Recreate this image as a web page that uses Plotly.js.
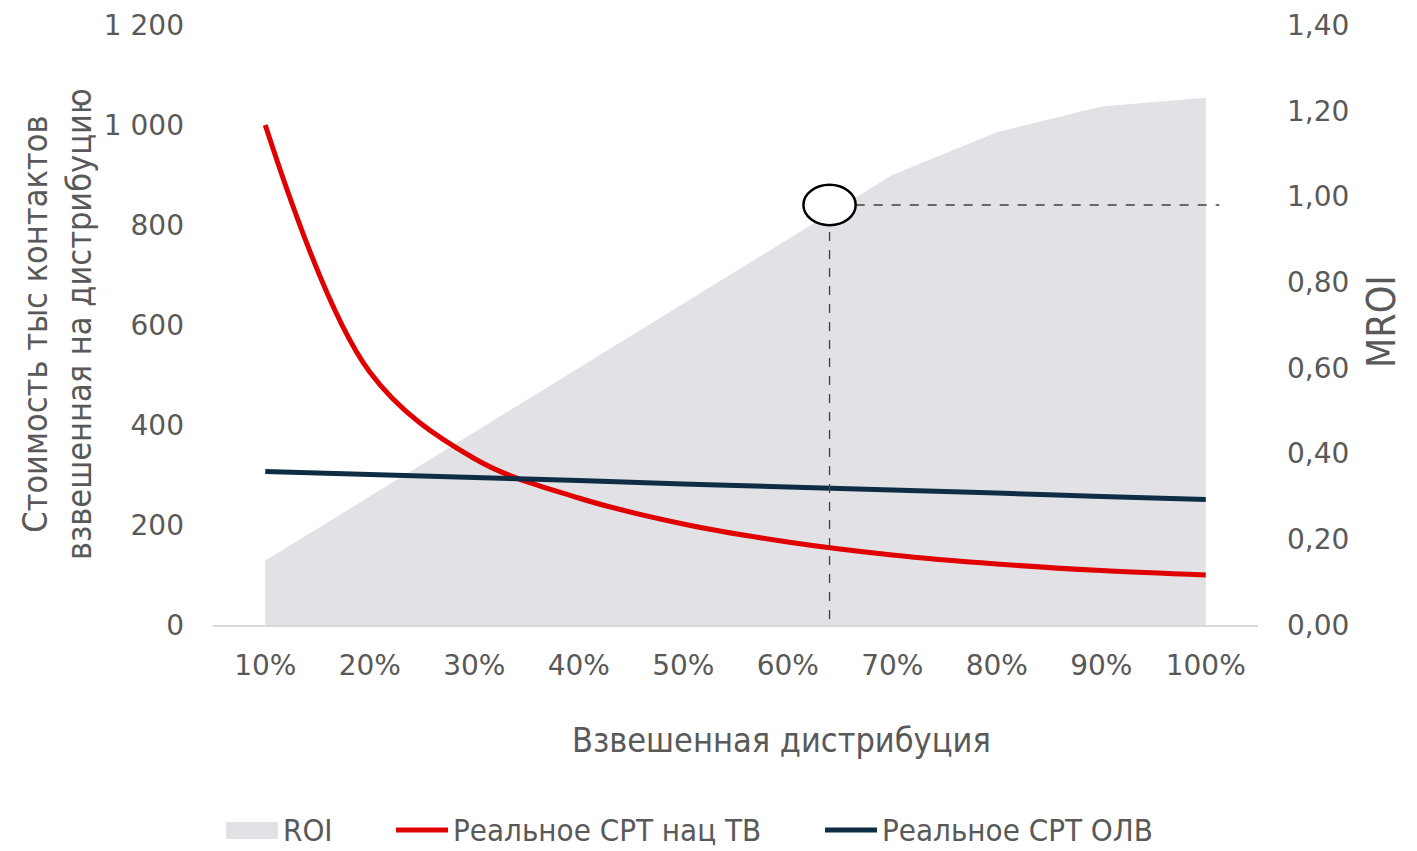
<!DOCTYPE html>
<html>
<head>
<meta charset="utf-8">
<script src="https://cdn.plot.ly/plotly-3.0.1.min.js"></script>
<style>
  html, body { margin: 0; padding: 0; background: #ffffff; }
  #chart { width: 1417px; height: 851px; }
</style>
</head>
<body>
<div id="chart"></div>
<script>
// Weighted distribution (x categories)
const distribution = [0.1, 0.2, 0.3, 0.4, 0.5, 0.6, 0.7, 0.8, 0.9, 1.0];
const distributionLabels = ['10%', '20%', '30%', '40%', '50%', '60%', '70%', '80%', '90%', '100%'];

// ROI (right axis, MROI)
const roi = [0.15, 0.30, 0.45, 0.60, 0.75, 0.90, 1.05, 1.15, 1.21, 1.23];

// Реальное CPT нац ТВ (left axis)
const cptNatTV = [1000, 506, 333, 254, 202, 166, 140, 122, 109, 100];

// Реальное CPT ОЛВ (left axis)
const cptOLV = [307, 301, 295, 289, 282, 276, 270, 264, 257, 251];

// Highlighted point (annotation marker)
const markerPoint = { x: 0.64, y: 0.98 };

const seriesNames = ['ROI', 'Реальное CPT нац ТВ', 'Реальное CPT ОЛВ'];
const seriesColors = ['#e1e1e6', '#e00000', '#0e2d45'];

const leftTicks = [0, 200, 400, 600, 800, 1000, 1200];
const leftTickText = ['0', '200', '400', '600', '800', '1 000', '1 200'];
const rightTicks = [0, 0.2, 0.4, 0.6, 0.8, 1.0, 1.2, 1.4];
const rightTickText = ['0,00', '0,20', '0,40', '0,60', '0,80', '1,00', '1,20', '1,40'];

const TEXT = '#595959';
const TICKFONT = { family: 'DejaVu Sans, Verdana, sans-serif', size: 28, color: TEXT };
const NARROW = '"DejaVu Sans Condensed", "Liberation Sans Narrow", "Roboto Condensed", "DejaVu Sans", sans-serif';

const traces = [
  {
    x: distribution, y: roi, name: seriesNames[0], yaxis: 'y',
    type: 'scatter', mode: 'lines', fill: 'tozeroy',
    fillcolor: seriesColors[0], line: { width: 0, color: seriesColors[0] },
    hoverinfo: 'skip'
  },
  {
    x: distribution, y: cptNatTV, name: seriesNames[1], yaxis: 'y2',
    type: 'scatter', mode: 'lines',
    line: { color: seriesColors[1], width: 5, shape: 'spline', smoothing: 1 }
  },
  {
    x: distribution, y: cptOLV, name: seriesNames[2], yaxis: 'y2',
    type: 'scatter', mode: 'lines',
    line: { color: seriesColors[2], width: 5, shape: 'spline', smoothing: 1 }
  }
];

// pixel helpers for legend/title placement (plot area 213..1258 x 25..625)
const px = v => (v - 213) / 1045;
const py = v => (625 - v) / 600;

const cw = 0.025, ch = 0.047;
const legendY = 830;
const layout = {
  width: 1417, height: 851,
  margin: { l: 213, r: 159, t: 25, b: 226 },
  paper_bgcolor: '#ffffff', plot_bgcolor: '#ffffff',
  showlegend: false,
  xaxis: {
    range: [0.05, 1.05], tickvals: distribution, ticktext: distributionLabels,
    showgrid: false, zeroline: false, showline: true, linecolor: '#d9d9d9', linewidth: 2,
    ticks: '', tickfont: TICKFONT, ticklabelstandoff: 14
  },
  yaxis: {
    range: [0, 1.4], tickvals: rightTicks, ticktext: rightTickText, side: 'right',
    showgrid: false, zeroline: false, showline: false, ticks: '',
    tickfont: TICKFONT, ticklabelstandoff: 28
  },
  yaxis2: {
    range: [0, 1200], tickvals: leftTicks, ticktext: leftTickText,
    overlaying: 'y', side: 'left',
    showgrid: false, zeroline: false, showline: false, ticks: '',
    tickfont: TICKFONT, ticklabelstandoff: 28
  },
  shapes: [
    { type: 'line', xref: 'x', yref: 'y', x0: markerPoint.x, x1: markerPoint.x,
      y0: 0.014, y1: markerPoint.y - ch, line: { color: '#404040', width: 1.3, dash: 'dash' } },
    { type: 'line', xref: 'x', yref: 'y', x0: markerPoint.x + cw, x1: 1.013,
      y0: markerPoint.y, y1: markerPoint.y, line: { color: '#404040', width: 1.3, dash: 'dash' } },
    { type: 'circle', xref: 'x', yref: 'y',
      x0: markerPoint.x - cw, x1: markerPoint.x + cw, y0: markerPoint.y - ch, y1: markerPoint.y + ch,
      fillcolor: '#ffffff', line: { color: '#000000', width: 2.5 } },
    // legend symbols
    { type: 'rect', xref: 'paper', yref: 'paper', x0: px(226), x1: px(278), y0: py(legendY + 9), y1: py(legendY - 8),
      fillcolor: seriesColors[0], line: { width: 0 } },
    { type: 'line', xref: 'paper', yref: 'paper', x0: px(396), x1: px(448), y0: py(legendY), y1: py(legendY),
      line: { color: seriesColors[1], width: 5 } },
    { type: 'line', xref: 'paper', yref: 'paper', x0: px(825), x1: px(877), y0: py(legendY), y1: py(legendY),
      line: { color: seriesColors[2], width: 5 } }
  ],
  annotations: [
    { xref: 'paper', yref: 'paper', x: px(781), y: py(740),
      text: 'Взвешенная дистрибуция', showarrow: false, xanchor: 'center', yanchor: 'middle',
      font: { family: NARROW, size: 34, color: TEXT } },
    { xref: 'paper', yref: 'paper', x: px(57), y: py(324),
      text: 'Стоимость тыс контактов<br>взвешенная на дистрибуцию', showarrow: false,
      textangle: -90, xanchor: 'center', yanchor: 'middle',
      font: { family: NARROW, size: 34, color: TEXT } },
    { xref: 'paper', yref: 'paper', x: px(1381), y: py(322),
      text: 'MROI', showarrow: false, textangle: -90, xanchor: 'center', yanchor: 'middle',
      font: { family: NARROW, size: 39, color: TEXT } },
    // legend labels
    { xref: 'paper', yref: 'paper', x: px(281), y: py(legendY), text: seriesNames[0],
      showarrow: false, xanchor: 'left', yanchor: 'middle', font: { family: NARROW, size: 31, color: TEXT } },
    { xref: 'paper', yref: 'paper', x: px(451), y: py(legendY), text: seriesNames[1],
      showarrow: false, xanchor: 'left', yanchor: 'middle', font: { family: NARROW, size: 31, color: TEXT } },
    { xref: 'paper', yref: 'paper', x: px(880), y: py(legendY), text: seriesNames[2],
      showarrow: false, xanchor: 'left', yanchor: 'middle', font: { family: NARROW, size: 31, color: TEXT } }
  ]
};

Plotly.newPlot('chart', traces, layout, { staticPlot: true, displayModeBar: false });
</script>
</body>
</html>
